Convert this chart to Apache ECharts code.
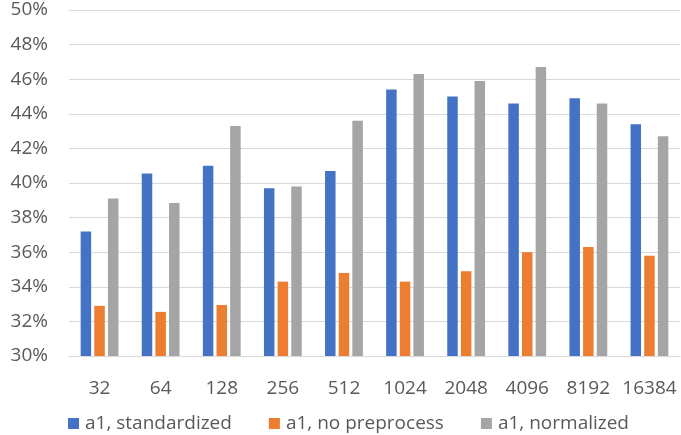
<!DOCTYPE html>
<html><head><meta charset="utf-8">
<script src="https://cdn.jsdelivr.net/npm/echarts@6/dist/echarts.min.js"></script>
<style>html,body{margin:0;padding:0;background:#fff}#c{width:681px;height:435px}</style>
</head><body><div id="c"></div>
<script>
var categories = ['32','64','128','256','512','1024','2048','4096','8192','16384'];
var standardized = [37.2, 40.55, 41.0, 39.7, 40.7, 45.4, 45.0, 44.6, 44.9, 43.4];
var noPreprocess = [32.9, 32.55, 32.95, 34.3, 34.8, 34.3, 34.9, 36.0, 36.3, 35.8];
var normalized = [39.1, 38.85, 43.3, 39.8, 43.6, 46.3, 45.9, 46.7, 44.6, 42.7];
var seriesNames = ['a1, standardized', 'a1, no preprocess', 'a1, normalized'];
var colors = ['#4472C4', '#ED7D31', '#A5A5A5'];
var font = 'Open Sans';
var chart = echarts.init(document.getElementById('c'));
function mk(name, data, i){
  return {name:name, type:'bar', data:data, barWidth:10.5, barGap:'30%',
    itemStyle:{color:colors[i]}};
}
chart.setOption({
  animation:false,
  color:colors,
  grid:{left:69, right:1, top:10, bottom:79, containLabel:false},
  legend:{bottom:-3, left:63, itemWidth:13, itemHeight:11, itemGap:37,
    icon:'path://M0,0h11v11h-11z',
    textStyle:{fontFamily:font, fontSize:19, color:'#595959'}},
  xAxis:{type:'category', data:categories,
    axisLine:{lineStyle:{color:'#d9d9d9'}}, axisTick:{show:false},
    axisLabel:{interval:0, fontFamily:font, fontSize:19, color:'#595959', margin:23}},
  yAxis:{type:'value', min:30, max:50, interval:2,
    axisLine:{show:false}, axisTick:{show:false},
    splitLine:{lineStyle:{color:'#d9d9d9'}},
    axisLabel:{fontFamily:font, fontSize:19, color:'#595959', margin:21, formatter:'{value}%'}},
  series:[mk(seriesNames[0], standardized, 0), mk(seriesNames[1], noPreprocess, 1), mk(seriesNames[2], normalized, 2)]
});
</script></body></html>
